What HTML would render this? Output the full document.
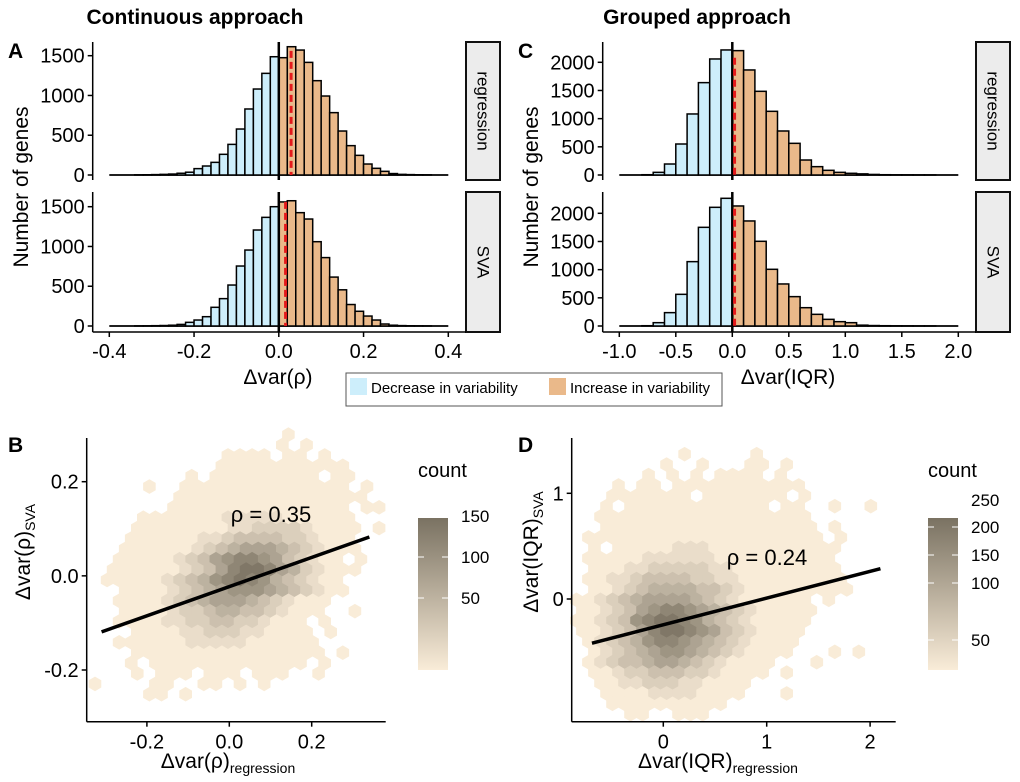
<!DOCTYPE html>
<html><head><meta charset="utf-8"><style>
body{margin:0;background:#fff}
svg{display:block;font-family:"Liberation Sans",Arial,sans-serif}
</style></head><body>
<svg id="fig" width="1020" height="782" viewBox="0 0 1020 782">
<rect width="1020" height="782" fill="#fff"/>
<defs>
<linearGradient id="cbar" x1="0" y1="0" x2="0" y2="1"><stop offset="0" stop-color="#7a7262"/><stop offset="1" stop-color="#f9ecd8"/></linearGradient>
</defs>
<text x="195" y="24" font-size="21" font-weight="bold" text-anchor="middle">Continuous approach</text>
<text x="697" y="24" font-size="21" font-weight="bold" text-anchor="middle">Grouped approach</text>
<text x="8" y="58" font-size="21" font-weight="bold">A</text>
<text x="518" y="58" font-size="21" font-weight="bold">C</text>
<text x="8" y="452" font-size="21" font-weight="bold">B</text>
<text x="518" y="452" font-size="21" font-weight="bold">D</text>
<g id="gA"></g>
<g id="gC"></g>
<g id="gB"></g>
<g id="gD"></g>
<g>
<rect x="346" y="373" width="376" height="33" fill="#fff" stroke="#555" stroke-width="1"/>
<rect x="350" y="378" width="17" height="17" fill="#cdeefb"/>
<text x="371" y="393" font-size="15">Decrease in variability</text>
<rect x="549" y="378" width="17" height="17" fill="#eab98a"/>
<text x="570" y="393" font-size="15">Increase in variability</text>
</g>
</svg>
<script>
// ---------- Data ----------
const binsA_start = -0.4, binsA_width = 0.02;
const countsA_regression = [0,0,0,2,3,5,8,12,22,35,80,113,159,260,385,578,830,1081,1278,1487,
  1475,1613,1571,1416,1186,993,784,553,369,247,138,84,46,18,8,5,3,2,0,0];
const countsA_sva = [0,0,0,1,2,4,6,10,20,46,75,117,235,344,515,754,955,1207,1366,1500,
  1560,1575,1425,1345,1060,860,615,455,270,185,125,75,25,10,5,3,2,1,0,0];
const meanA = [0.029, 0.016];
const ticksA_x = [-0.4,-0.2,0.0,0.2,0.4];
const ticksA_xlabels = ["-0.4","-0.2","0.0","0.2","0.4"];
const ticksA_y = [0,500,1000,1500];

const binsC_start = -1.0, binsC_width = 0.1;
const countsC_regression = [0,0,5,47,195,550,1083,1639,2059,2219,2207,1864,1485,1130,781,562,266,148,83,47,30,20,10,5,3,2,1,1,0,0];
const countsC_sva = [0,0,5,59,237,562,1142,1751,2106,2266,2130,1864,1503,1006,746,521,325,207,118,77,59,15,8,5,3,2,1,1,0,0];
const meanC = [0.02, 0.02];
const ticksC_x = [-1.0,-0.5,0.0,0.5,1.0,1.5,2.0];
const ticksC_xlabels = ["-1.0","-0.5","0.0","0.5","1.0","1.5","2.0"];
const ticksC_y = [0,500,1000,1500,2000];

// hexbin B: level strings (count = level * 16)
const hexB_rows = [
"................1.......",
"...............1.1......",
"...........1111.11.1....",
"..........11111111111...",
"........1.111111111.11..",
"....1..11111111111111.1.",
".......1111111111111111.",
"......111111111111111.11",
"....111111122222111111..",
"...1111111122333321111.1",
"...1111112234444332111..",
"..11111123456665432111..",
"..1111123467887643211.1.",
".111111234689986532111..",
".11111234578987543211...",
"..1111234567776543211...",
"..111123456665432111....",
"..11112334554432111..1..",
"..1111223344332111.1....",
"...111122333221111.1....",
"..11111122222111111.....",
"...1111111111111111.1...",
"...1.1111111111111.1....",
"...1.111.111.111..1.....",
"1....11..11.1.1.........",
"....11.1................"];
const hexB_countPerLevel = 16;
const hexB_x0 = -0.326, hexB_dx = 0.02934, hexB_y0 = 0.300, hexB_dy = 0.02206;
const fitB = [-0.0229, 0.31];
const fitB_x = [-0.31, 0.34];
const ticksB_x = [-0.2,0.0,0.2];
const ticksB_xlabels = ["-0.2","0.0","0.2"];
const ticksB_y = [0.2,0.0,-0.2];
const ticksB_ylabels = ["0.2","0.0","-0.2"];
const cbarB_labels = [150,100,50];

const hexD_rows = [
".........1.....1.........",
".......1..1...11.1.......",
"......1.1.1.1111.1.......",
"...1.11.11111111111......",
"...1111111.1111111.1.....",
"..1.111111111111.11..1..1",
"..111111111111111111.....",
"..111111111111111111.1...",
".11111111111111111111.1..",
".1.1111122211111111111...",
".111112222221111111111...",
".111223333322111111111...",
".1122344443322111111111..",
".1123455554432111111111..",
"11234566665432111111.1...",
"11234678876543211111.....",
"11234789987543211111.....",
"1123468998764321111......",
".123457887654321111......",
".12345677654321111...1.1.",
".1234456654321111...1....",
".112334443321111.1.......",
"..1122333221111..........",
"..111122221111...1.......",
"...1111111111............",
"....11..111.............."];
const hexD_countPerLevel = 24;
const hexD_x0 = -0.84, hexD_dx = 0.1162, hexD_y0 = 1.37, hexD_dy = 0.0984;
const fitD = [-0.244, 0.253];
const fitD_x = [-0.69, 2.1];
const ticksD_x = [0,1,2];
const ticksD_y = [1,0];
const cbarD_labels = [250,200,150,100,50];

// ---------- helpers ----------
const NS = "http://www.w3.org/2000/svg";
function mk(parent, tag, attrs){ const e=document.createElementNS(NS,tag); for(const k in attrs) e.setAttribute(k,attrs[k]); parent.appendChild(e); return e; }
function lin(d0,d1,r0,r1){ return v => r0 + (v-d0)*(r1-r0)/(d1-d0); }
function lerpColor(t){ t=Math.max(0,Math.min(1,t)); const lo=[249,236,216], hi=[122,114,98]; return "rgb("+lo.map((c,i)=>Math.round(c+(hi[i]-c)*t)).join(",")+")"; }

// ---------- histograms ----------
function histPanel(g, cfg){
  const xs = lin(cfg.xd[0], cfg.xd[1], cfg.xr[0], cfg.xr[1]);
  cfg.facets.forEach((f, fi) => {
    const ys = lin(0, f.refV, f.zero, f.refY);
    const fg = mk(g,"g",{});
    
    
    const bl = mk(fg,"line",{x1:xs(cfg.bStart),x2:xs(cfg.bStart+f.counts.length*cfg.bW),y1:ys(0),y2:ys(0),stroke:"#000","stroke-width":1.8});
    
    
    f.counts.forEach((c, i) => {
      if(c<=0) return;
      const x0 = cfg.bStart + i*cfg.bW;
      const r = mk(fg,"rect",{x:xs(x0), y:ys(c), width:xs(x0+cfg.bW)-xs(x0), height:Math.max(0,ys(0)-ys(c)), fill: x0<0 ? "#cdeefb" : "#eab98a", stroke:"#000","stroke-width":1.5});
      
      
    });
    const zl = mk(fg,"line",{x1:xs(0),x2:xs(0),y1:f.top,y2:f.bottom,stroke:"#000","stroke-width":2.5});
    
    
    const ml = mk(fg,"line",{x1:xs(f.mean),x2:xs(f.mean),y1:ys(f.refV*1.04),y2:ys(0),stroke:"#e41a1c","stroke-width":3,"stroke-dasharray":"7,4"});
    
    
    const ax = mk(fg,"line",{x1:cfg.yAxisX,x2:cfg.yAxisX,y1:f.top,y2:f.bottom,stroke:"#000","stroke-width":1.5});
    
    
    cfg.yt.forEach(t => {
      const tl = mk(fg,"line",{x1:cfg.yAxisX-5,x2:cfg.yAxisX,y1:ys(t),y2:ys(t),stroke:"#000","stroke-width":1.5});
      
      
      const tx = mk(fg,"text",{x:cfg.yAxisX-8,y:ys(t)+7,"font-size":20,"text-anchor":"end"});
      tx.textContent = String(t);
      
      
    });
    const st = mk(fg,"rect",{x:cfg.stripX,y:f.top,width:34,height:f.bottom-f.top,fill:"#ececec",stroke:"#111","stroke-width":2});
    
    
    const cx = cfg.stripX+17, cy=(f.top+f.bottom)/2;
    const sl = mk(fg,"text",{x:cx,y:cy,"font-size":17,"text-anchor":"middle","dominant-baseline":"central",transform:"rotate(90 "+cx+" "+cy+")"});
    sl.textContent = f.name;
    
    
  });
  const xa = mk(g,"line",{x1:cfg.yAxisX,x2:cfg.stripX,y1:cfg.xAxisY,y2:cfg.xAxisY,stroke:"#000","stroke-width":1.5});
  
  
  cfg.xt.forEach((t,i) => {
    const tl = mk(g,"line",{x1:xs(t),x2:xs(t),y1:cfg.xAxisY,y2:cfg.xAxisY+5,stroke:"#000","stroke-width":1.5});
    
    
    const tx = mk(g,"text",{x:xs(t),y:cfg.xAxisY+26,"font-size":20,"text-anchor":"middle"});
    tx.textContent = cfg.xl[i];
    
    
  });
  const xt = mk(g,"text",{x:cfg.xTitleX,y:384,"font-size":21,"text-anchor":"middle"});
  xt.textContent = cfg.xTitle;
  
  
  const yx = cfg.yTitleX, yy = 187;
  const yt = mk(g,"text",{x:yx,y:yy,"font-size":21,"text-anchor":"middle",transform:"rotate(-90 "+yx+" "+yy+")"});
  yt.textContent = "Number of genes";
  
  
}

histPanel(document.getElementById("gA"), {
  xd:[-0.4,0.4], xr:[109.3,448.3], bStart:binsA_start, bW:binsA_width,
  yAxisX:92.7, xAxisY:332, stripX:466, yTitleX:28, xTitleX:278,
  xt:ticksA_x, xl:ticksA_xlabels, yt:ticksA_y, xTitle:"Δvar(ρ)",
  facets:[
    {name:"regression", counts:countsA_regression, mean:meanA[0], zero:175, refV:1500, refY:55.7, top:42, bottom:180},
    {name:"SVA", counts:countsA_sva, mean:meanA[1], zero:326, refV:1500, refY:206.7, top:192, bottom:332}
  ]});
histPanel(document.getElementById("gC"), {
  xd:[-1.0,2.0], xr:[619.3,958.3], bStart:binsC_start, bW:binsC_width,
  yAxisX:602.7, xAxisY:332, stripX:976, yTitleX:538, xTitleX:788,
  xt:ticksC_x, xl:ticksC_xlabels, yt:ticksC_y, xTitle:"Δvar(IQR)",
  facets:[
    {name:"regression", counts:countsC_regression, mean:meanC[0], zero:175, refV:2000, refY:62.3, top:42, bottom:180},
    {name:"SVA", counts:countsC_sva, mean:meanC[1], zero:326, refV:2000, refY:213.3, top:192, bottom:332}
  ]});

// ---------- hexbin panels ----------
function hexPanel(g, cfg){
  const xs = cfg.xs, ys = cfg.ys;
  const hexW = 12.3, rad = hexW/Math.sqrt(3)+0.2;
  const hg = mk(g,"g",{});
  
  
  cfg.rows.forEach((row, r) => {
    for(let c=0;c<row.length;c++){
      const ch=row[c]; if(ch==='.') continue;
      const count = parseInt(ch)*cfg.cpl;
      const dx = cfg.x0 + (c + (r%2)*0.5)*cfg.dx;
      const dy = cfg.y0 - r*cfg.dy;
      const px = xs(dx), py = ys(dy);
      let pts=[]; for(let k=0;k<6;k++){ const a=Math.PI/180*(60*k-30); pts.push((px+rad*Math.cos(a)).toFixed(1)+","+(py+rad*Math.sin(a)).toFixed(1)); }
      const t = (count-cfg.cpl)/(cfg.cmax-cfg.cpl);
      const h = mk(hg,"polygon",{points:pts.join(" "), fill:lerpColor(t)});
      
      
    }
  });
  const fl = mk(g,"line",{x1:xs(cfg.fx[0]),y1:ys(cfg.fit[0]+cfg.fit[1]*cfg.fx[0]),x2:xs(cfg.fx[1]),y2:ys(cfg.fit[0]+cfg.fit[1]*cfg.fx[1]),stroke:"#000","stroke-width":3.5});
  
  
  const an = mk(g,"text",{x:cfg.ann[0],y:cfg.ann[1],"font-size":22,"text-anchor":"middle"});
  an.textContent = cfg.annText;
  
  
  const ya = mk(g,"line",{x1:cfg.ax,x2:cfg.ax,y1:438,y2:cfg.ay,stroke:"#000","stroke-width":1.5});
  
  
  const xa = mk(g,"line",{x1:cfg.ax,x2:cfg.axR,y1:cfg.ay,y2:cfg.ay,stroke:"#000","stroke-width":1.5});
  
  
  cfg.xt.forEach((t,i)=>{
    const tl = mk(g,"line",{x1:xs(t),x2:xs(t),y1:cfg.ay,y2:cfg.ay+5,stroke:"#000","stroke-width":1.5});
    
    
    const tx = mk(g,"text",{x:xs(t),y:cfg.ay+27,"font-size":20,"text-anchor":"middle"});
    tx.textContent = cfg.xl[i];
    
    
  });
  cfg.yt.forEach((t,i)=>{
    const tl = mk(g,"line",{x1:cfg.ax-5,x2:cfg.ax,y1:ys(t),y2:ys(t),stroke:"#000","stroke-width":1.5});
    
    
    const tx = mk(g,"text",{x:cfg.ax-8,y:ys(t)+7,"font-size":20,"text-anchor":"end"});
    tx.textContent = cfg.yl[i];
    
    
  });
  const xt = mk(g,"text",{x:cfg.xTitle[0],y:768,"font-size":21,"text-anchor":"middle"});
  xt.innerHTML = cfg.xTitle[1]+'<tspan font-size="14" dy="5">regression</tspan>';
  
  
  const yx=cfg.yTitle[0], yy=552;
  const yt = mk(g,"text",{x:yx,y:yy,"font-size":21,"text-anchor":"middle",transform:"rotate(-90 "+yx+" "+yy+")"});
  yt.innerHTML = cfg.yTitle[1]+'<tspan font-size="14" dy="5">SVA</tspan>';
  
  
  const cb = mk(g,"rect",{x:cfg.cbX,y:518,width:30,height:152,fill:"url(#cbar)"});
  
  
  const ct = mk(g,"text",{x:cfg.cbX,y:477,"font-size":20});
  ct.textContent = "count";
  
  
  cfg.cbl.forEach((v,i)=>{
    const y = cfg.cbY[i];
    if(y>518 && y<670){
      const t1 = mk(g,"line",{x1:cfg.cbX,x2:cfg.cbX+6,y1:y,y2:y,stroke:"#fff","stroke-width":1});
      
      
      const t2 = mk(g,"line",{x1:cfg.cbX+24,x2:cfg.cbX+30,y1:y,y2:y,stroke:"#fff","stroke-width":1});
      
      
    }
    const tx = mk(g,"text",{x:cfg.cbX+43,y:y+6,"font-size":17});
    tx.textContent = String(v);
    
    
  });
}

const xsB = lin(0,0.2,229.3,311.7);
const ysB = lin(0.2,-0.2,481.7,670);
hexPanel(document.getElementById("gB"), {
  xs:xsB, ys:ysB, rows:hexB_rows, cpl:hexB_countPerLevel, cmax:150,
  x0:hexB_x0, dx:hexB_dx, y0:hexB_y0, dy:hexB_dy,
  fit:fitB, fx:fitB_x, ann:[271,522], annText:"ρ = 0.35",
  ax:86.7, ay:721.7, axR:385.7, xt:ticksB_x, xl:ticksB_xlabels, yt:ticksB_y, yl:ticksB_ylabels,
  xTitle:[228,"Δvar(ρ)"], yTitle:[30,"Δvar(ρ)"],
  cbX:418, cbl:cbarB_labels, cbY:[516,557,598]
});
const xsD = lin(0,1,663.3,766.7);
const ysD = lin(0,1,599,493.3);
hexPanel(document.getElementById("gD"), {
  xs:xsD, ys:ysD, rows:hexD_rows, cpl:hexD_countPerLevel, cmax:225,
  x0:hexD_x0, dx:hexD_dx, y0:hexD_y0, dy:hexD_dy,
  fit:fitD, fx:fitD_x, ann:[767,565], annText:"ρ = 0.24",
  ax:571.7, ay:721.7, axR:895.7, xt:ticksD_x, xl:["0","1","2"], yt:ticksD_y, yl:["1","0"],
  xTitle:[718,"Δvar(IQR)"], yTitle:[538,"Δvar(IQR)"],
  cbX:928, cbl:cbarD_labels, cbY:[500,527,555,583,640]
});
</script>
</body></html>
